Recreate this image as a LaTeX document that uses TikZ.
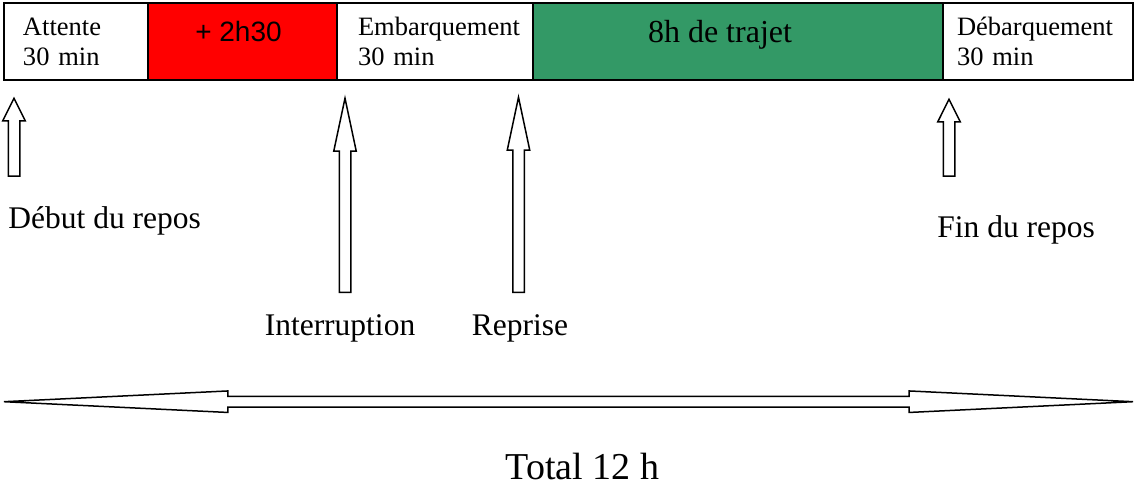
\documentclass[tikz,border=0pt]{standalone}
\usepackage{fontspec}
\setmainfont{Liberation Serif}
\newfontfamily\arialfont{Liberation Sans}
\usetikzlibrary{positioning, shapes.arrows}
\definecolor{delayred}{RGB}{255,0,0}
\definecolor{tripgreen}{RGB}{51,153,102}
\tikzset{
  cell/.style={rectangle, draw=black, line width=0.75pt, minimum height=38.5pt,
               inner ysep=0pt, outer sep=0pt, align=left, font=\rmfamily\fontsize{13.25}{15}\selectfont},
  uparr/.style={single arrow, draw=black, line width=0.75pt, fill=white, rotate=90, anchor=tail,
                inner xsep=0pt, inner ysep=2.5pt, single arrow head extend=2.75pt},
  dblarr/.style={double arrow, draw=black, line width=0.75pt, fill=white,
                 inner xsep=0pt, inner ysep=2.3pt, double arrow head extend=2.7pt, double arrow tip angle=5.5},
  lbl/.style={inner sep=0pt, font=\rmfamily\fontsize{15.75}{18}\selectfont}
}

\begin{document}
\begin{tikzpicture}[x=0.5pt, y=-0.5pt]
\useasboundingbox (0,0) rectangle (1134,486);
% bande horaire
\node[cell, minimum width=72pt, inner xsep=9.5pt, text width=53pt, anchor=west] (attente) at (4,41.5) {Attente\\30 min};
\node[cell, fill=delayred, minimum width=94.5pt, font=\arialfont\fontsize{14}{16}\selectfont, text height=10pt, text depth=9.5pt, right=0pt of attente] (retard) {+ 2h30\hspace*{4pt}};
\node[cell, minimum width=98pt, inner xsep=10.5pt, text width=77pt, right=0pt of retard] (embarq) {Embarquement\\30 min};
\node[cell, fill=tripgreen, minimum width=205pt, font=\rmfamily\fontsize{16}{18}\selectfont, text height=11.5pt, text depth=10.5pt, right=0pt of embarq] (trajet) {8h de trajet\hspace*{18pt}};
\node[cell, minimum width=95pt, inner xsep=7pt, text width=81pt, right=0pt of trajet] (debarq) {Débarquement\\30 min};
% fleches
\node[uparr, single arrow tip angle=53, minimum height=39pt] (debut) at (14,177) {};
\node[uparr, single arrow tip angle=24, minimum height=97pt] (interr) at (345,293) {};
\node[uparr, single arrow tip angle=24, minimum height=97.5pt] (reprise) at (518.5,293) {};
\node[uparr, single arrow tip angle=53, minimum height=38.5pt] (fin) at (949,177) {};
\node[lbl, below=14.75pt of debut.tail, anchor=north west, xshift=-3pt] (debutlbl) {Début du repos};
\node[lbl, below=10.5pt of interr.tail, xshift=-2.5pt] (interrlbl) {Interruption};
\node[lbl, below=10.5pt of reprise.tail, xshift=0.75pt] (repriselbl) {Reprise};
\node[lbl, below=19.25pt of fin.tail, anchor=north west, xshift=-6pt] (finlbl) {Fin du repos};
% total
\node[dblarr, minimum height=564.5pt] (totarr) at (568.5,401.7) {};
\node[inner sep=0pt, font=\rmfamily\fontsize{19}{21}\selectfont, below=25.5pt of totarr.center, xshift=7pt] (total) {Total 12 h};
\end{tikzpicture}
\end{document}
